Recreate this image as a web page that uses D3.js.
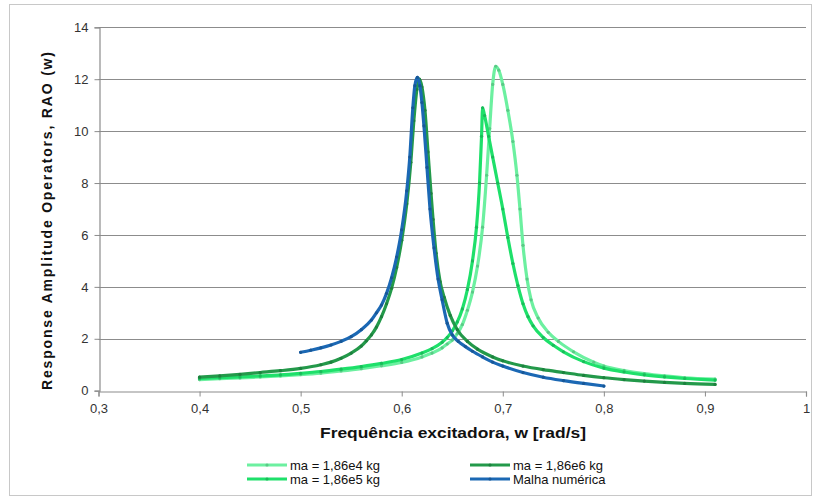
<!DOCTYPE html>
<html>
<head>
<meta charset="utf-8">
<script src="https://cdn.jsdelivr.net/npm/d3@7"></script>
<style>
  html, body { margin: 0; padding: 0; background: #fff; }
  svg { display: block; font-family: "Liberation Sans", Arial, sans-serif; }
</style>
</head>
<body>
<svg id="chart" width="813" height="498"></svg>
<script>
// ---- Data ----
const xTicks = [0.3, 0.4, 0.5, 0.6, 0.7, 0.8, 0.9, 1.0];
const xTickLabels = ["0,3", "0,4", "0,5", "0,6", "0,7", "0,8", "0,9", "1"];
const yTicks = [0, 2, 4, 6, 8, 10, 12, 14];
const yTickLabels = ["0", "2", "4", "6", "8", "10", "12", "14"];

const seriesNames = ["ma = 1,86e4 kg", "ma = 1,86e5 kg", "ma = 1,86e6 kg", "Malha numérica"];
const seriesColors = ["#6cf0a0", "#1ee06a", "#23994a", "#1b68b4"];

const freqE4 = [0.40,0.42,0.44,0.46,0.48,0.50,0.52,0.54,0.56,0.58,0.60,0.62,0.63,0.64,0.645,0.65,0.655,0.66,0.665,0.67,0.675,0.68,0.684,0.687,0.690,0.693,0.696,0.700,0.705,0.710,0.714,0.717,0.720,0.724,0.728,0.735,0.745,0.755,0.77,0.79,0.80,0.82,0.84,0.86,0.88,0.91];
const raoE4  = [0.43,0.46,0.49,0.53,0.57,0.62,0.68,0.76,0.85,0.96,1.09,1.30,1.45,1.65,1.80,1.95,2.20,2.55,3.10,3.80,4.80,6.30,8.30,10.1,11.8,12.5,12.35,11.8,10.8,9.6,8.3,7.0,5.6,4.3,3.5,2.8,2.25,1.9,1.5,1.1,0.95,0.78,0.66,0.57,0.50,0.45];

const freqE5 = [0.40,0.42,0.44,0.46,0.48,0.50,0.52,0.54,0.56,0.58,0.60,0.62,0.63,0.64,0.645,0.65,0.655,0.66,0.665,0.67,0.674,0.677,0.679,0.680,0.682,0.686,0.690,0.695,0.700,0.705,0.710,0.715,0.720,0.725,0.730,0.740,0.750,0.76,0.78,0.80,0.82,0.84,0.86,0.88,0.91];
const raoE5  = [0.47,0.50,0.53,0.57,0.61,0.67,0.74,0.83,0.93,1.05,1.20,1.45,1.62,1.87,2.05,2.30,2.65,3.15,3.90,5.00,6.30,8.00,9.80,10.9,10.6,9.8,9.0,8.0,7.0,5.9,4.9,4.05,3.35,2.85,2.5,2.05,1.75,1.5,1.12,0.87,0.72,0.61,0.53,0.47,0.41];

const freqE6 = [0.40,0.42,0.44,0.46,0.48,0.50,0.52,0.53,0.54,0.55,0.56,0.565,0.57,0.575,0.58,0.585,0.59,0.595,0.60,0.605,0.609,0.612,0.615,0.6175,0.620,0.623,0.626,0.629,0.631,0.634,0.638,0.642,0.648,0.655,0.665,0.675,0.69,0.70,0.72,0.74,0.76,0.78,0.80,0.82,0.84,0.86,0.88,0.91];
const raoE6  = [0.52,0.57,0.63,0.70,0.77,0.86,1.00,1.10,1.25,1.45,1.72,1.92,2.15,2.45,2.85,3.35,3.95,4.75,5.80,7.20,8.80,10.4,11.6,12.0,11.7,10.8,9.2,7.6,6.6,5.3,4.2,3.6,2.9,2.35,1.9,1.6,1.3,1.15,0.95,0.81,0.70,0.59,0.50,0.43,0.37,0.32,0.28,0.24];

const freqNum = [0.50,0.51,0.52,0.53,0.54,0.55,0.56,0.57,0.575,0.58,0.585,0.59,0.595,0.60,0.605,0.608,0.611,0.613,0.6155,0.618,0.620,0.622,0.625,0.628,0.632,0.636,0.64,0.645,0.65,0.656,0.663,0.67,0.68,0.69,0.70,0.72,0.74,0.76,0.78,0.80];
const raoNum  = [1.48,1.56,1.65,1.76,1.90,2.08,2.35,2.72,3.00,3.30,3.75,4.35,5.15,6.20,7.70,9.00,10.9,11.75,12.07,11.75,11.1,10.2,8.6,7.0,5.5,4.3,3.5,2.6,2.15,1.9,1.7,1.52,1.3,1.1,0.95,0.70,0.52,0.39,0.28,0.18];

const seriesFreq = [freqE4, freqE5, freqE6, freqNum];
const seriesRao = [raoE4, raoE5, raoE6, raoNum];

// ---- Layout ----
const svg = d3.select("#chart");
const x = d3.scaleLinear().domain([0.3, 1.0]).range([98.5, 806]);
const y = d3.scaleLinear().domain([0, 14]).range([390.7, 27.3]);

// outer frame
svg.append("rect").attr("x", 9.5).attr("y", 4.5).attr("width", 802).attr("height", 491)
  .attr("fill", "#fff").attr("stroke", "#c8c8c8").attr("stroke-width", 1);

// horizontal gridlines
svg.append("g").selectAll("line").data(yTicks.filter(v => v > 0)).join("line")
  .attr("x1", x(0.3)).attr("x2", x(1.0))
  .attr("y1", d => Math.round(y(d)) + 0.5).attr("y2", d => Math.round(y(d)) + 0.5)
  .attr("stroke", "#8c8c8c").attr("stroke-width", 1.2);

// x axis
const xAxis = d3.axisBottom(x).tickValues(xTicks).tickSize(5)
  .tickFormat((d, i) => xTickLabels[i]);
const gx = svg.append("g").attr("transform", `translate(0,${Math.round(y(0)) + 0.5})`).call(xAxis);
gx.select(".domain").attr("stroke", "#8c8c8c").attr("stroke-width", 1.2);
gx.selectAll(".tick line").attr("stroke", "#8c8c8c");
gx.selectAll(".tick text").attr("font-size", 13).attr("fill", "#333").attr("dy", "1.05em")
  .attr("font-family", "Liberation Sans, Arial, sans-serif");

// y axis
const yAxis = d3.axisLeft(y).tickValues(yTicks).tickSize(5)
  .tickFormat((d, i) => yTickLabels[i]);
const gy = svg.append("g").attr("transform", `translate(${Math.round(x(0.3)) + 0.5},0)`).call(yAxis);
gy.select(".domain").attr("stroke", "#8c8c8c").attr("stroke-width", 1.2);
gy.selectAll(".tick line").attr("stroke", "#8c8c8c");
gy.selectAll(".tick text").attr("font-size", 13).attr("fill", "#333").attr("dx", "-3")
  .attr("font-family", "Liberation Sans, Arial, sans-serif");

// axis titles
svg.append("text").attr("x", 453).attr("y", 438).attr("text-anchor", "middle")
  .attr("font-size", 14).attr("font-weight", "bold").attr("fill", "#111")
  .attr("textLength", 266).attr("lengthAdjust", "spacingAndGlyphs")
  .text("Frequência excitadora, w [rad/s]");

svg.append("text").attr("transform", "translate(52,221) rotate(-90)").attr("text-anchor", "middle")
  .attr("font-size", 14).attr("font-weight", "bold").attr("fill", "#111")
  .attr("textLength", 338).attr("lengthAdjust", "spacing")
  .text("Response Amplitude Operators, RAO (w)");

// series lines
const line = d3.line().x(d => x(d[0])).y(d => y(d[1])).curve(d3.curveMonotoneX);
seriesFreq.forEach((fr, i) => {
  const pts = fr.map((f, j) => [f, seriesRao[i][j]]);
  svg.append("path").datum(pts).attr("d", line).attr("fill", "none")
    .attr("stroke", seriesColors[i]).attr("stroke-width", 3.2)
    .attr("stroke-linejoin", "round").attr("stroke-linecap", "round");
  svg.append("g").selectAll("circle").data(pts).join("circle")
    .attr("cx", d => x(d[0])).attr("cy", d => y(d[1])).attr("r", 1.6)
    .attr("fill", d3.color(seriesColors[i]).darker(0.5));
});

// legend
const legendPos = [[247, 465], [247, 479], [470, 465], [470, 479]];
seriesNames.forEach((name, i) => {
  const [lx, ly] = legendPos[i];
  svg.append("line").attr("x1", lx).attr("x2", lx + 40).attr("y1", ly).attr("y2", ly)
    .attr("stroke", seriesColors[i]).attr("stroke-width", 3);
  svg.append("circle").attr("cx", lx + 20).attr("cy", ly).attr("r", 1.6)
    .attr("fill", d3.color(seriesColors[i]).darker(0.5));
  svg.append("text").attr("x", lx + 43).attr("y", ly).attr("dy", "0.35em")
    .attr("font-size", 13).attr("fill", "#111").text(name);
});
</script>
</body>
</html>
